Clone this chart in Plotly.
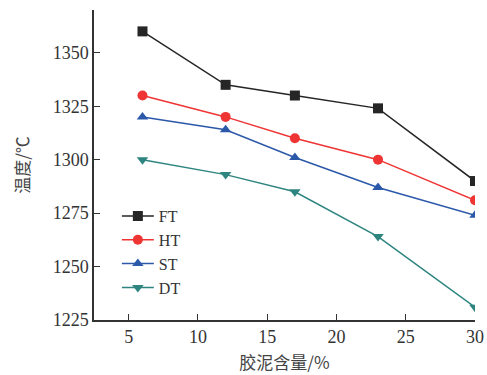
import plotly.graph_objects as go

x_vals = [6, 12, 17, 23, 30]
ft = [1360, 1335, 1330, 1324, 1290]
ht = [1330, 1320, 1310, 1300, 1281]
st = [1320, 1314, 1301, 1287, 1274]
dt = [1300, 1293, 1285, 1264, 1231]
x_ticks = [5, 10, 15, 20, 25, 30]
y_ticks = [1225, 1250, 1275, 1300, 1325, 1350]

series = [
    ("FT", ft, "#262626", "square"),
    ("HT", ht, "#ef3434", "circle"),
    ("ST", st, "#2b58a8", "triangle-up"),
    ("DT", dt, "#2e8580", "triangle-down"),
]

fig = go.Figure()
for name, vals, color, sym in series:
    fig.add_trace(go.Scatter(
        x=x_vals, y=vals, name=name, mode="lines+markers",
        line=dict(color=color, width=1.5),
        marker=dict(symbol=sym, size=10, color=color),
    ))

font_serif = "Liberation Serif, Times New Roman, serif"
fig.update_layout(
    width=487, height=375,
    margin=dict(l=94, r=12, t=10, b=55),
    paper_bgcolor="white", plot_bgcolor="white",
    font=dict(family=font_serif, size=18, color="#333333"),
    showlegend=True,
    legend=dict(x=0.06, y=0.39, xanchor="left", yanchor="top",
                bgcolor="rgba(0,0,0,0)", font=dict(size=16, family=font_serif, color="#333333"),
                itemwidth=32, tracegroupgap=0),
    xaxis=dict(
        range=[2.5, 30], tickvals=x_ticks, ticks="inside", ticklen=6,
        showline=True, linecolor="#333333", linewidth=1.5, tickcolor="#333333",
        showgrid=False, zeroline=False, automargin=False,
        title=dict(text="胶泥含量/%", font=dict(family="Noto Sans CJK SC", size=17, color="#444444"), standoff=11),
    ),
    yaxis=dict(
        range=[1225, 1370], tickvals=y_ticks, ticks="inside", ticklen=6,
        showline=True, linecolor="#333333", linewidth=1.5, tickcolor="#333333",
        showgrid=False, zeroline=False, automargin=False,
        title=dict(text="温度/℃", font=dict(family="Noto Sans CJK SC", size=17, color="#444444"), standoff=19),
    ),
)

fig.write_html(
    "out.html",
    config={"displayModeBar": False},
    post_script="document.body.style.margin='0';document.body.style.overflow='hidden';"
                "document.documentElement.style.overflow='hidden';",
)
